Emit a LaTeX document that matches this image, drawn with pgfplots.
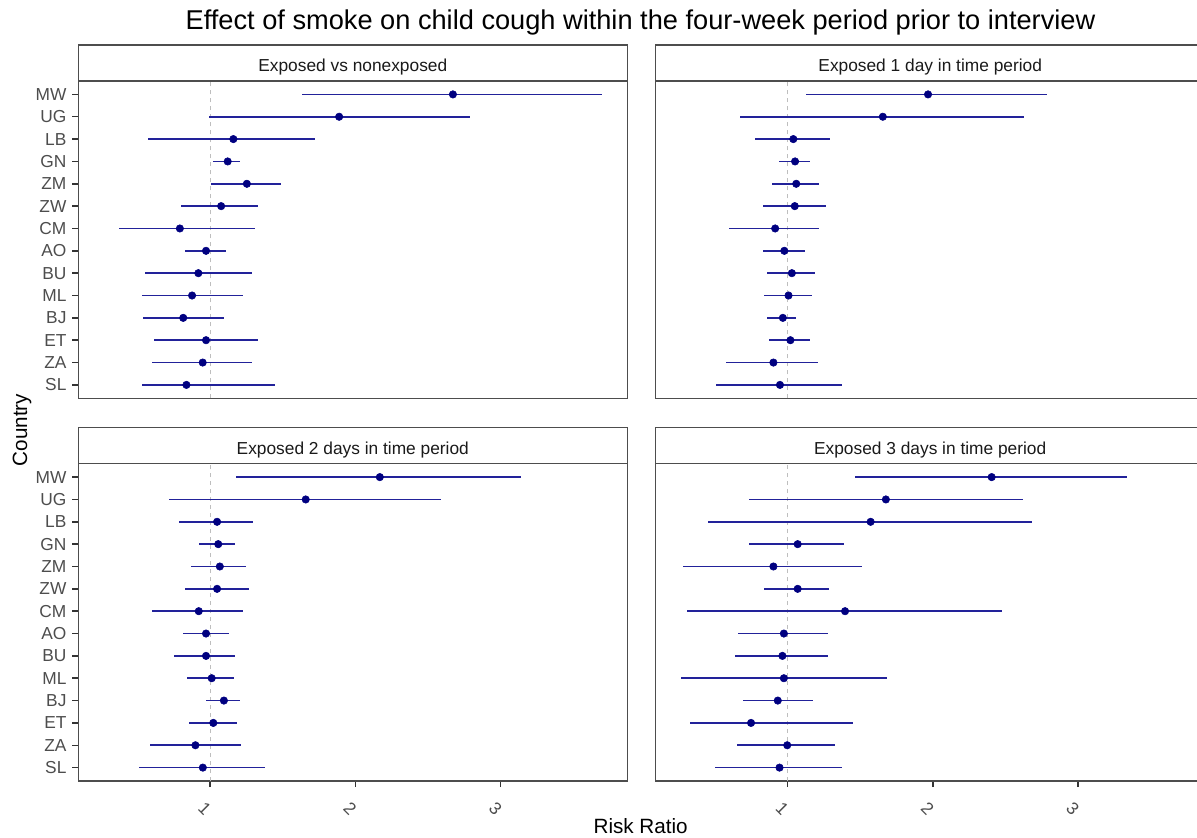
\documentclass[border=0pt]{standalone}
\usepackage{fontspec}
\setmainfont{Liberation Sans}
\usepackage{pgfplots}
\usepackage{pgfplotstable}
\pgfplotsset{compat=1.18}
\definecolor{grey30}{HTML}{4D4D4D}
\definecolor{grey20}{HTML}{333333}
\definecolor{grey10}{HTML}{1A1A1A}
\definecolor{ptcol}{HTML}{000080}
\definecolor{lncol}{HTML}{22229A}
\definecolor{dashcol}{HTML}{BEBEBE}
\newcommand\ticksize{\fontsize{13}{15}\selectfont}
\newcommand\stripsize{\fontsize{13}{15}\selectfont}

% pos: MW=14 ... SL=1
\pgfplotstableread{
pos lo est hi
14 1.635 2.671 3.699
13 0.994 1.888 2.789
12 0.573 1.160 1.725
11 1.022 1.121 1.205
10 1.008 1.253 1.486
9 0.801 1.076 1.331
8 0.374 0.792 1.312
7 0.826 0.972 1.110
6 0.551 0.919 1.289
5 0.528 0.876 1.225
4 0.539 0.815 1.093
3 0.612 0.972 1.331
2 0.601 0.949 1.289
1 0.528 0.837 1.447
}\tabA
\pgfplotstableread{
pos lo est hi
14 1.129 1.967 2.785
13 0.672 1.656 2.628
12 0.776 1.040 1.293
11 0.943 1.052 1.157
10 0.893 1.060 1.219
9 0.828 1.050 1.263
8 0.600 0.915 1.219
7 0.828 0.978 1.117
6 0.861 1.030 1.189
5 0.838 1.007 1.169
4 0.861 0.968 1.055
3 0.871 1.020 1.157
2 0.577 0.903 1.211
1 0.505 0.948 1.378
}\tabB
\pgfplotstableread{
pos lo est hi
14 1.176 2.168 3.140
13 0.720 1.658 2.588
12 0.784 1.048 1.297
11 0.927 1.056 1.174
10 0.866 1.067 1.246
9 0.826 1.048 1.266
8 0.602 0.922 1.224
7 0.812 0.972 1.132
6 0.754 0.972 1.174
5 0.843 1.011 1.162
4 0.969 1.095 1.204
3 0.854 1.022 1.185
2 0.585 0.899 1.216
1 0.513 0.950 1.381
}\tabC
\pgfplotstableread{
pos lo est hi
14 1.463 2.405 3.338
13 0.734 1.677 2.619
12 0.453 1.572 2.682
11 0.734 1.070 1.388
10 0.284 0.903 1.512
9 0.838 1.070 1.284
8 0.306 1.396 2.475
7 0.662 0.975 1.276
6 0.639 0.965 1.276
5 0.264 0.975 1.682
4 0.692 0.933 1.172
3 0.326 0.749 1.450
2 0.649 0.998 1.326
1 0.502 0.945 1.378
}\tabD

\pgfplotsset{
  panel/.style={
    scale only axis, width=411.75pt, height=237.98pt,
    anchor=north west, clip=false,
    xmin=0.093, xmax=3.871, ymin=0.4, ymax=14.6,
    axis line style={draw=grey30, line width=0.8pt},
    tick style={draw=grey20, line width=1.1pt},
    tick align=outside,
    major tick length=4.5pt,
    xtick pos=bottom, ytick pos=left,
    /pgf/number format/assume math mode=true,
  },
  leftpanel/.style={
    ytick={1,...,14},
    yticklabels={SL,ZA,ET,BJ,ML,BU,AO,CM,ZW,ZM,GN,LB,UG,MW},
    yticklabel style={font=\ticksize, text=grey30, anchor=east, inner sep=0pt},
    yticklabel shift=4.2pt,
  },
  rightpanel/.style={ytick=\empty},
  toppanel/.style={xtick=\empty},
  bottompanel/.style={
    xtick={1,2,3},
    xticklabel style={font=\ticksize, text=grey30, anchor=center, xshift=-4pt, rotate=-45},
    xticklabel shift=16.5pt,
  },
}

\newcommand\strip[1]{%
  \draw[draw=grey30, line width=0.8pt, fill=white] (rel axis cs:0,1) rectangle ([yshift=27pt]rel axis cs:1,1);
  \node[font=\stripsize, text=grey10, anchor=base] at ([yshift=7.2pt]rel axis cs:0.5,1) {#1};
}
\newcommand\series[1]{%
  \addplot[dashcol, dash pattern=on 3pt off 3pt, line width=0.75pt, forget plot] coordinates {(1,0.4) (1,14.6)};
  \addplot[draw=none, mark=none, forget plot,
    error bars/.cd, x dir=both, x explicit, error mark=none,
    error bar style={draw=lncol, line width=1.3pt, solid}]
    table[x=est, y=pos,
      x error plus expr=\thisrow{hi}-\thisrow{est},
      x error minus expr=\thisrow{est}-\thisrow{lo}] {#1};
  \addplot[only marks, mark=*, mark size=2.8pt, color=ptcol, mark options={fill=ptcol, draw=ptcol}] table[x=est, y=pos] {#1};
}

\begin{document}
\begin{tikzpicture}
\node[font=\fontsize{20.4}{24}\selectfont, anchor=base] at (480.4pt,-21.98pt)
  {Effect of smoke on child cough within the four-week period prior to interview};

\begin{axis}[panel, leftpanel, toppanel, at={(58.725pt,-60.75pt)}]
  \series{\tabA}
  \strip{Exposed vs nonexposed}
\end{axis}
\begin{axis}[panel, rightpanel, toppanel, at={(491.78pt,-60.75pt)}]
  \series{\tabB}
  \strip{Exposed 1 day in time period}
\end{axis}
\begin{axis}[panel, leftpanel, bottompanel, at={(58.725pt,-347.78pt)}]
  \series{\tabC}
  \strip{Exposed 2 days in time period}
\end{axis}
\begin{axis}[panel, rightpanel, bottompanel, at={(491.78pt,-347.78pt)}]
  \series{\tabD}
  \strip{Exposed 3 days in time period}
\end{axis}

\node[font=\fontsize{15.5}{18}\selectfont, anchor=base] at (480.5pt,-624.75pt) {Risk Ratio};
\node[font=\fontsize{15.5}{18}\selectfont, rotate=90, anchor=center] at (16.6pt,-322.5pt) {Country};

\pgfresetboundingbox
\path[use as bounding box] (0,0) rectangle (897.75pt,-628.5pt);
\end{tikzpicture}
\end{document}
